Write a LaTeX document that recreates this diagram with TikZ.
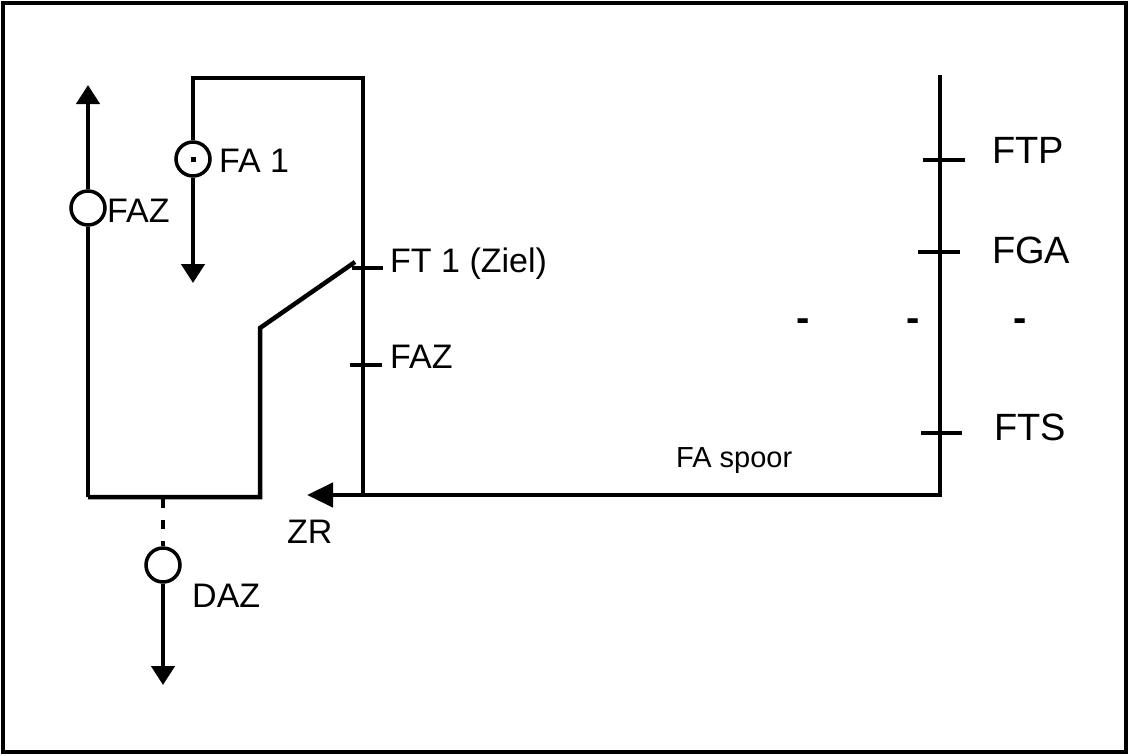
\documentclass[tikz,border=0pt]{standalone}
\usepackage{fontspec}
\setmainfont{Liberation Sans}
\usetikzlibrary{arrows.meta}

\tikzset{
  track/.style={line width=4.5pt},
  tick/.style={line width=4pt},
  sensor/.style={circle,draw,line width=3.5pt,minimum size=34pt,inner sep=0pt,fill=white},
  lbl/.style={font=\fontsize{34}{40}\selectfont,inner sep=0pt,anchor=base west},
  biglbl/.style={font=\fontsize{38}{44}\selectfont,inner sep=0pt,anchor=base west},
  tip/.style={-{Triangle[length=19pt,width=23pt]}},
  longtip/.style={-{Triangle[length=26pt,width=24pt]}},
}

\begin{document}
\begin{tikzpicture}[x=1pt,y=-1pt]
  \useasboundingbox (0,0) rectangle (1129,755);
  % frame
  \draw[line width=3.5pt] (3,3) rectangle (1126,752);

  % left track with FAZ detector
  \node[sensor] (faz) at (88,208) {};
  \coordinate (fazbot) at (88,497);
  \coordinate (faztop) at (88,85);
  \draw[track] (fazbot) -- (faz.south);
  \draw[track,tip] (faz.north) -- (faztop);
  \node[lbl] (fazlbl) at (107,222) {FAZ};

  % switch
  \coordinate (swbot) at (260,497);
  \coordinate (swknee) at (260,328);
  \coordinate (swend) at (355,262);
  \draw[track] (fazbot) -- (swbot) -- (swknee) -- (swend);

  % FA 1 loop
  \node[sensor] (fa1) at (193,159) {};
  \fill (fa1.center) +(-2.5,-2.5) rectangle +(2.5,2.5);
  \coordinate (fa1top) at (193,78);
  \coordinate (rtop) at (363,78);
  \coordinate (rbot) at (363,495);
  \coordinate (fa1end) at (193,283);
  \draw[track] (fa1.north) -- (fa1top) -- (rtop) -- (rbot);
  \draw[track,tip] (fa1.south) -- (fa1end);
  \node[lbl] (fa1lbl) at (219,172) {FA 1};

  % ticks on the middle track
  \draw[tick] (352,268) -- (383,268);
  \draw[tick] (350,365) -- (382,365);
  \node[lbl] (ft1lbl) at (390,272) {FT 1 (Ziel)};
  \node[lbl] (faz2lbl) at (390,368) {FAZ};

  % right track
  \coordinate (sptop) at (940,75);
  \coordinate (spbot) at (940,495);
  \coordinate (zrtip) at (307,495);
  \draw[track] (sptop) -- (spbot) -- (rbot);
  \draw[track,longtip] (rbot) -- (zrtip);
  \node[lbl] (zrlbl) at (287,543) {ZR};
  \node[lbl,font=\fontsize{29}{34}\selectfont] (spoorlbl) at (676,467) {FA spoor};

  \draw[tick] (923,160) -- (965,160);
  \draw[tick] (918,252) -- (960,252);
  \draw[tick] (921,433) -- (962,433);
  \node[biglbl] (ftplbl) at (992,163) {FTP};
  \node[biglbl] (fgalbl) at (992,263) {FGA};
  \node[biglbl] (ftslbl) at (994,440) {FTS};
  \foreach \x/\nm in {803/da, 913/db, 1020/dc}{
    \node[biglbl,anchor=base,font=\fontsize{40}{44}\selectfont\bfseries] (\nm) at (\x,331) {-};
  }

  % DAZ detector
  \node[sensor] (daz) at (163,565) {};
  \coordinate (dazend) at (163,685);
  \draw[tick,dash pattern=on 9pt off 12pt] (163,499) -- (daz.north);
  \draw[track,tip] (daz.south) -- (dazend);
  \node[lbl] (dazlbl) at (192,607) {DAZ};
\end{tikzpicture}
\end{document}
